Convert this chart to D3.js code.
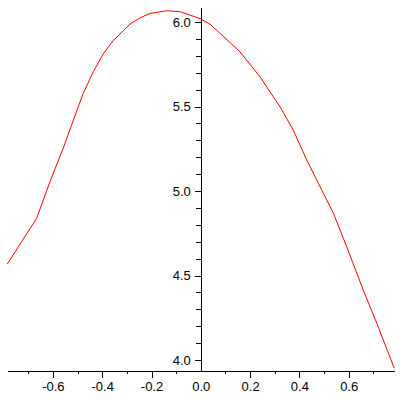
<!DOCTYPE html>
<html><head><meta charset="utf-8">
<script src="https://cdn.jsdelivr.net/npm/d3@7"></script>
<style>
html,body{margin:0;padding:0;background:#fff;}
svg{display:block;}
text{font-family:"Liberation Sans Narrow","Liberation Sans",Arial,sans-serif;font-size:13px;fill:#000;}
</style></head>
<body>
<svg id="chart" width="400" height="400"></svg>
<script>
// curve samples
const xValues = [-0.785,-0.693,-0.666,-0.612,-0.558,-0.517,-0.477,-0.436,-0.396,-0.355,-0.314,-0.287,-0.247,-0.206,-0.138,-0.084,-0.024,0.000,0.037,0.078,0.159,0.240,0.322,0.375,0.430,0.484,0.538,0.592,0.659,0.714,0.785];
const yValues = [4.568,4.777,4.838,5.055,5.254,5.420,5.578,5.706,5.811,5.891,5.949,5.988,6.024,6.051,6.067,6.061,6.031,6.018,5.988,5.933,5.824,5.676,5.497,5.361,5.183,5.025,4.868,4.670,4.414,4.217,3.951];
const xMajorTicks = [-0.6,-0.4,-0.2,0,0.2,0.4,0.6];
const xMinorTicks = [-0.7,-0.5,-0.3,-0.1,0.1,0.3,0.5,0.7];
const yMajorTicks = [4.0,4.5,5.0,5.5,6.0];
const yMinorTicks = [4.1,4.2,4.3,4.4,4.6,4.7,4.8,4.9,5.1,5.2,5.3,5.4,5.6,5.7,5.8,5.9];

const svg = d3.select("#chart");
const x = d3.scaleLinear().domain([-0.785, 0.785]).range([7.3, 394.3]);
const y = d3.scaleLinear().domain([3.935, 6.089]).range([371, 7]);

const fmt = d3.format(".1f");
const fmtLabel = v => fmt(v).replace("\u2212", "-");

// x axis at bottom of plot
const gx = svg.append("g").attr("transform", `translate(0,${y(3.935)})`)
  .call(d3.axisBottom(x).tickValues(xMajorTicks).tickSize(7).tickSizeOuter(0).tickPadding(4).tickFormat(fmtLabel));
gx.selectAll(".tick").filter(d => d === 0).select("line").remove();
svg.append("g").attr("transform", `translate(0,${y(3.935)})`)
  .call(d3.axisBottom(x).tickValues(xMinorTicks).tickSize(3).tickSizeOuter(0).tickFormat(""))
  .select(".domain").remove();

// y axis at x = 0
const gy = svg.append("g").attr("transform", `translate(${x(0)},0)`)
  .call(d3.axisLeft(y).tickValues(yMajorTicks).tickSize(6).tickSizeOuter(0).tickPadding(4).tickFormat(fmtLabel));
svg.append("g").attr("transform", `translate(${x(0)},0)`)
  .call(d3.axisLeft(y).tickValues(yMinorTicks).tickSize(5).tickSizeOuter(0).tickFormat(""))
  .select(".domain").remove();

svg.selectAll(".domain, .tick line").attr("stroke", "#000").attr("shape-rendering", "crispEdges");
svg.selectAll(".tick text").attr("font-family", null).attr("font-size", null);

// curve
const pts = xValues.map((v, i) => [v, yValues[i]]);
svg.append("path")
  .datum(pts)
  .attr("fill", "none")
  .attr("stroke", "#ff0000")
  .attr("stroke-width", 1)
  .attr("d", d3.line().x(d => x(d[0])).y(d => y(d[1])));
</script>
</body></html>
